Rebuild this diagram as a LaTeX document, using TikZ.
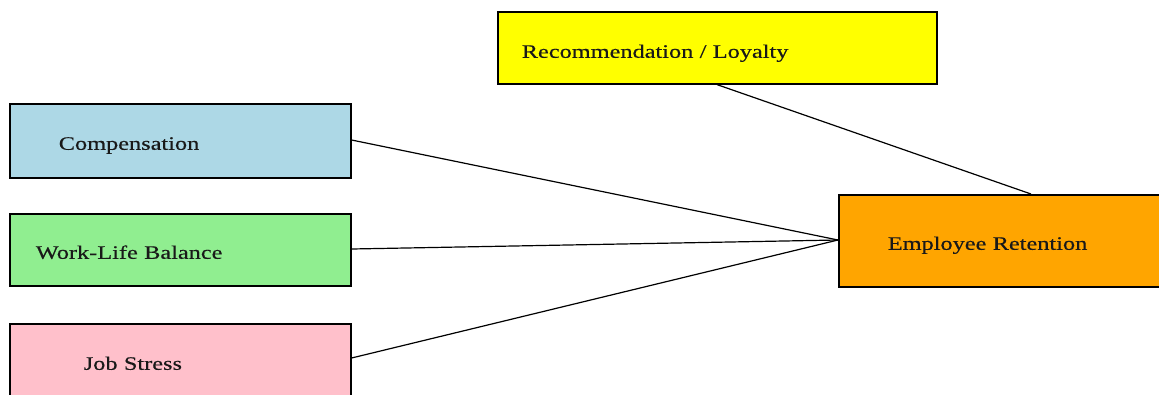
\documentclass[tikz,border=0pt]{standalone}
\usepackage{fontspec}
\newfontfamily\tnr[FakeStretch=1.28,FakeBold=0.4]{Liberation Serif}
\definecolor{cblue}{RGB}{173,216,230}
\definecolor{cgreen}{RGB}{144,238,144}
\definecolor{cpink}{RGB}{255,192,203}
\definecolor{corange}{RGB}{255,165,0}
\definecolor{cyellow}{RGB}{255,255,0}
\newcommand{\lbl}[3]{\hspace*{#1pt}\raisebox{-#2pt}[0pt][0pt]{#3}}
\begin{document}
\begin{tikzpicture}[x=1pt,y=-1pt,
  box/.style={draw=black, line width=1.6pt, anchor=north west, inner xsep=0pt, inner ysep=0pt,
    align=left, font=\tnr\fontsize{19}{22}\selectfont, text=black!90},
  link/.style={draw=black, line width=1.2pt}]
\useasboundingbox (0,0) rectangle (1159,394);
\node[box, fill=cyellow, minimum height=72pt, text width=439pt] (rec) at (497,11) {\lbl{24}{10}{Recommendation / Loyalty}};
\node[box, fill=cblue, minimum height=74pt, text width=341pt] (comp) at (9,103) {\lbl{49}{9}{Compensation}};
\node[box, fill=cgreen, minimum height=72pt, text width=341pt] (wlb) at (9,213) {\lbl{26}{9}{Work-Life Balance}};
\node[box, fill=cpink, minimum height=72pt, text width=341pt] (js) at (9,323) {\lbl{74}{10}{Job Stress}};
\node[box, fill=corange, minimum height=92pt, text width=340pt] (er) at (838,194) {\lbl{49}{9}{Employee Retention}};
\coordinate (erw) at (838,240);
\draw[link] (comp.east |- 0,140) -- (erw);
\draw[link] (wlb.east |- 0,249) -- (erw);
\draw[link] (js.east |- 0,358) -- (erw);
\draw[link] (rec.south -| 717,0) -- (er.north -| 1031,0);
\end{tikzpicture}
\end{document}
